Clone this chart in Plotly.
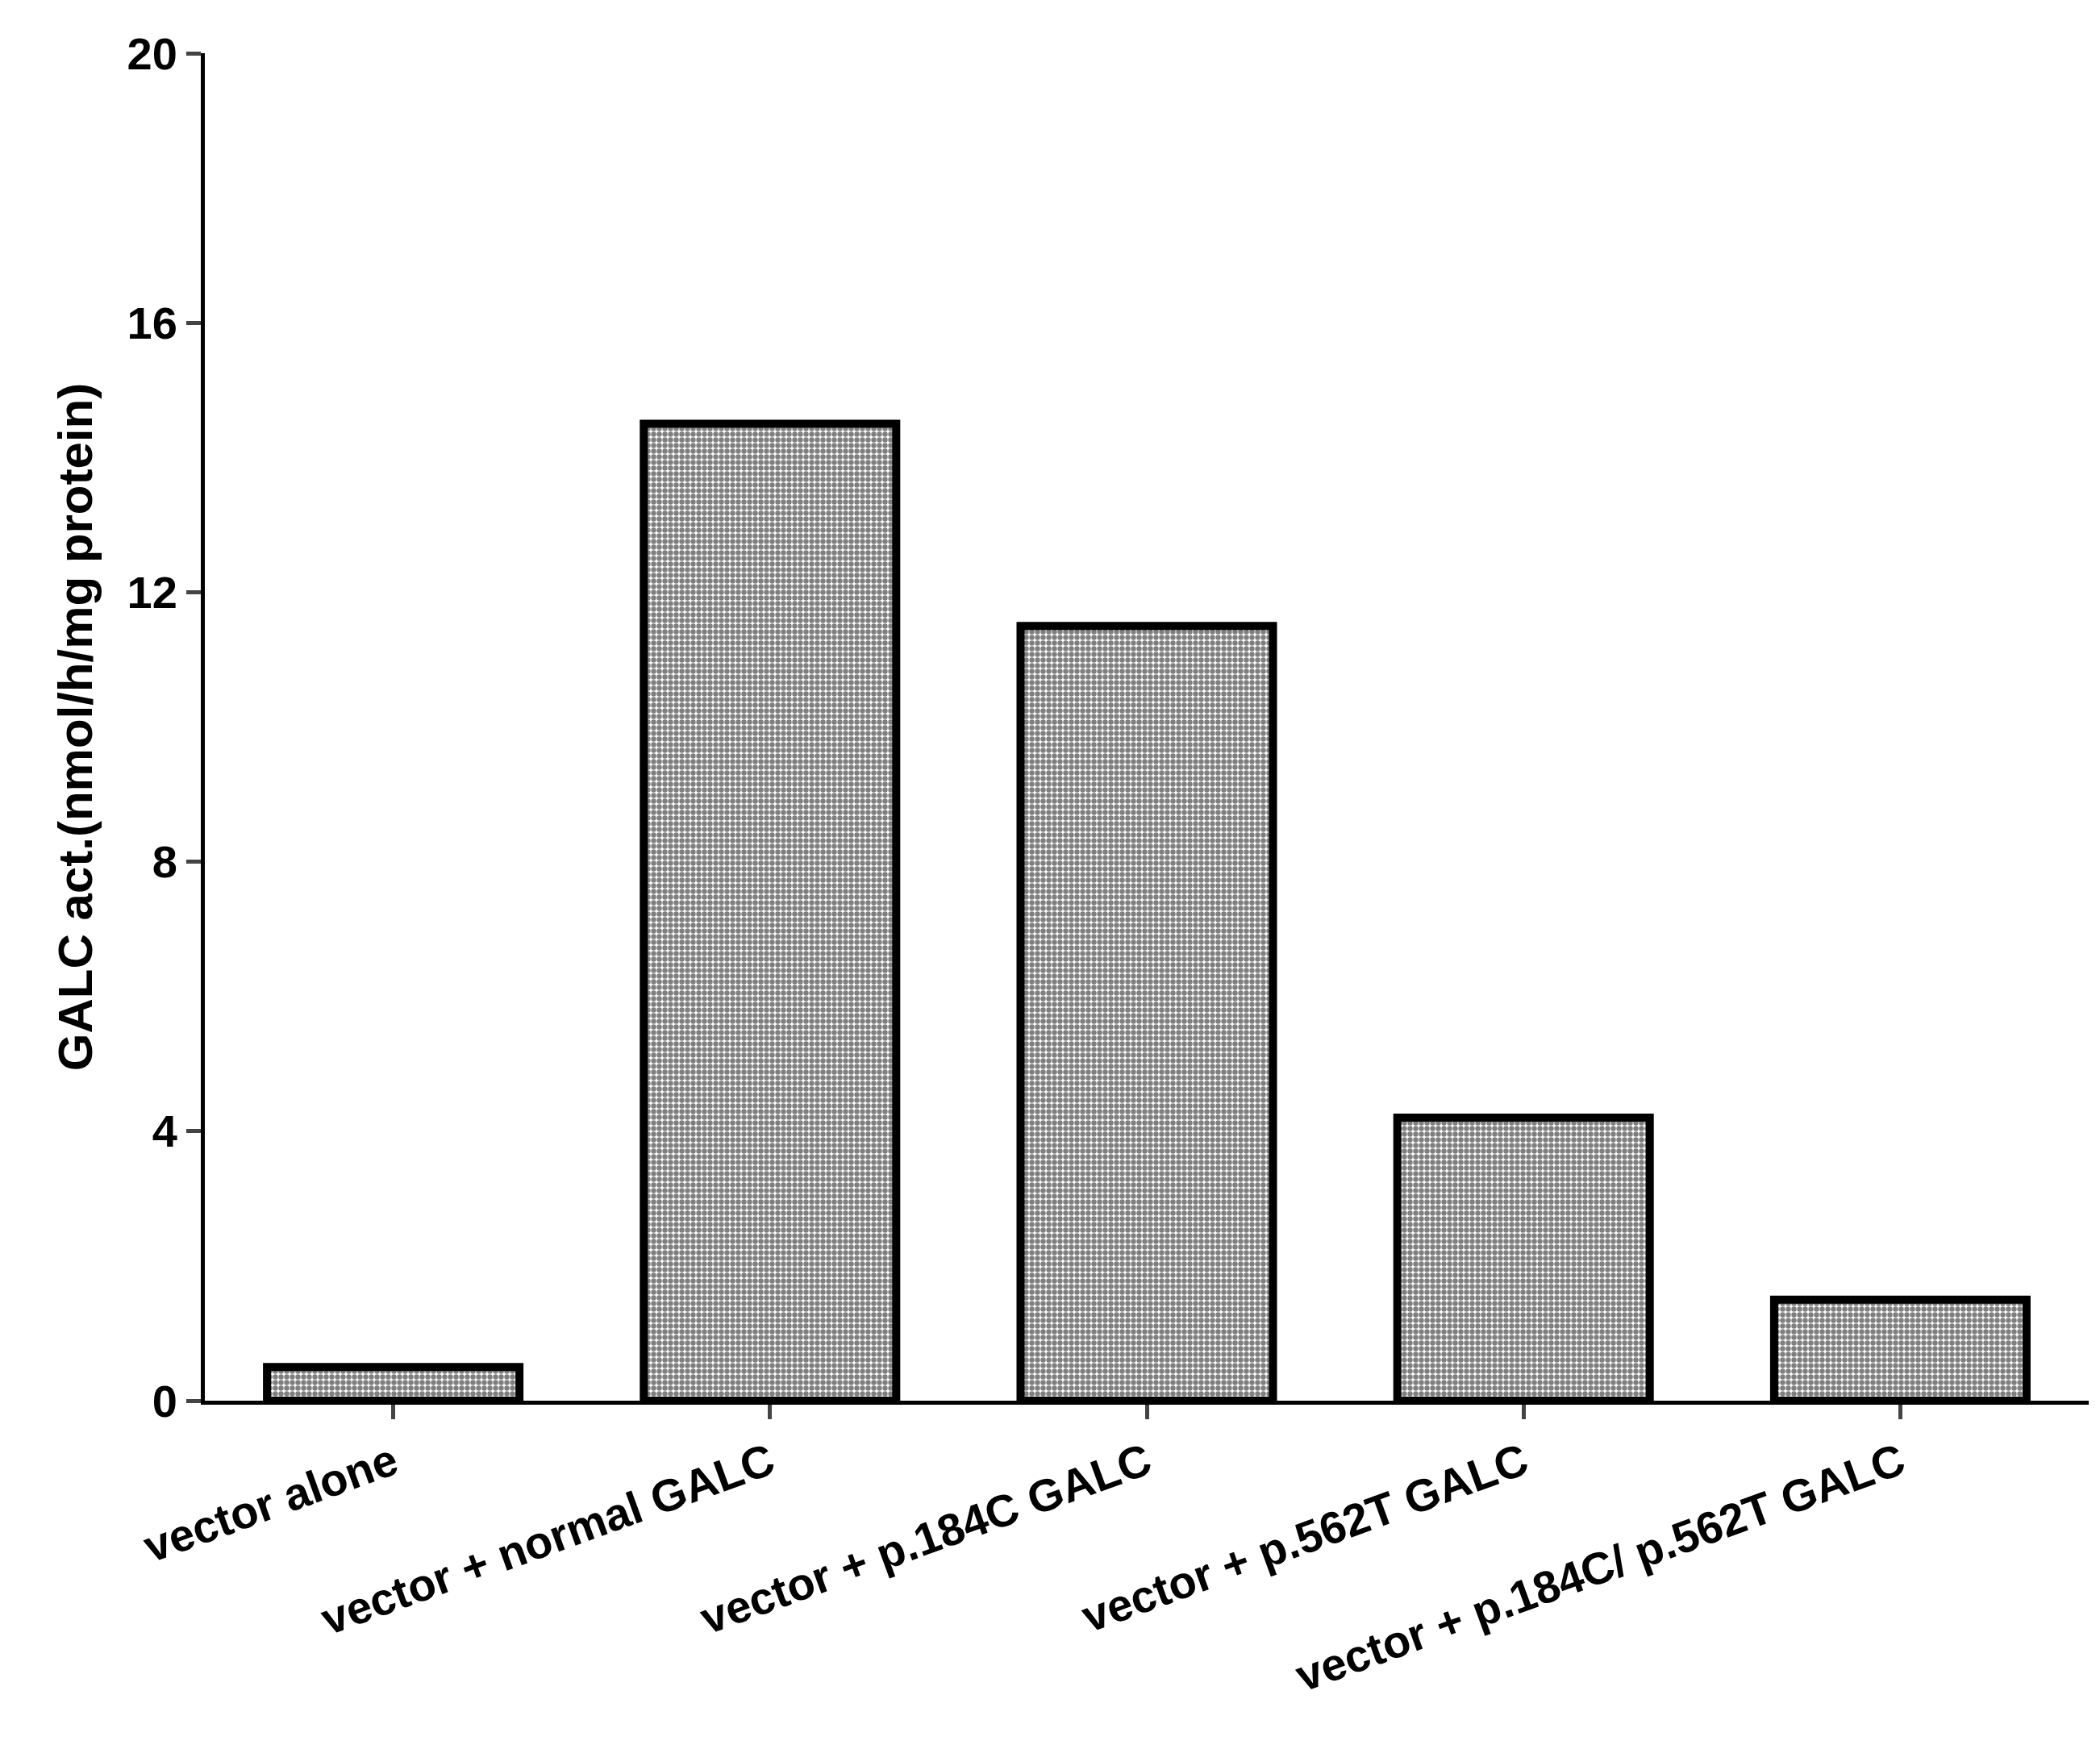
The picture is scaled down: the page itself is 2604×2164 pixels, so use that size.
import plotly.graph_objects as go

categories = ["vector alone", "vector + normal GALC", "vector + p.184C GALC",
              "vector + p.562T GALC", "vector + p.184C/ p.562T GALC"]
values = [0.5, 14.5, 11.5, 4.2, 1.5]
y_ticks = [0, 4, 8, 12, 16, 20]

fig = go.Figure(go.Bar(
    x=categories, y=values, width=0.67,
    marker=dict(color="white", line=dict(color="black", width=10),
                pattern=dict(shape=".", fgcolor="black", bgcolor="white",
                             size=7, solidity=0.65, fillmode="overlay")),
))
tf = dict(family="Liberation Sans, Arial", size=56, color="black", weight="bold")
fig.update_layout(
    width=2604, height=2164, plot_bgcolor="white", paper_bgcolor="white",
    margin=dict(l=246, r=22, t=58, b=435), showlegend=False, bargap=0.33,
)
fig.update_xaxes(showline=True, linecolor="black", linewidth=5, ticks="outside",
                 ticklen=18, tickwidth=5, tickangle=-20, tickfont=tf)
fig.update_yaxes(range=[0, 20], tickvals=y_ticks, showline=True, linecolor="black",
                 linewidth=5, ticks="outside", ticklen=18, tickwidth=5, showgrid=False,
                 zeroline=False, tickfont=tf,
                 title=dict(text="GALC act.(nmol/h/mg protein)",
                            font=dict(family="Liberation Sans, Arial", size=60, color="black", weight="bold"),
                            standoff=25))
fig.write_html("out.html")
